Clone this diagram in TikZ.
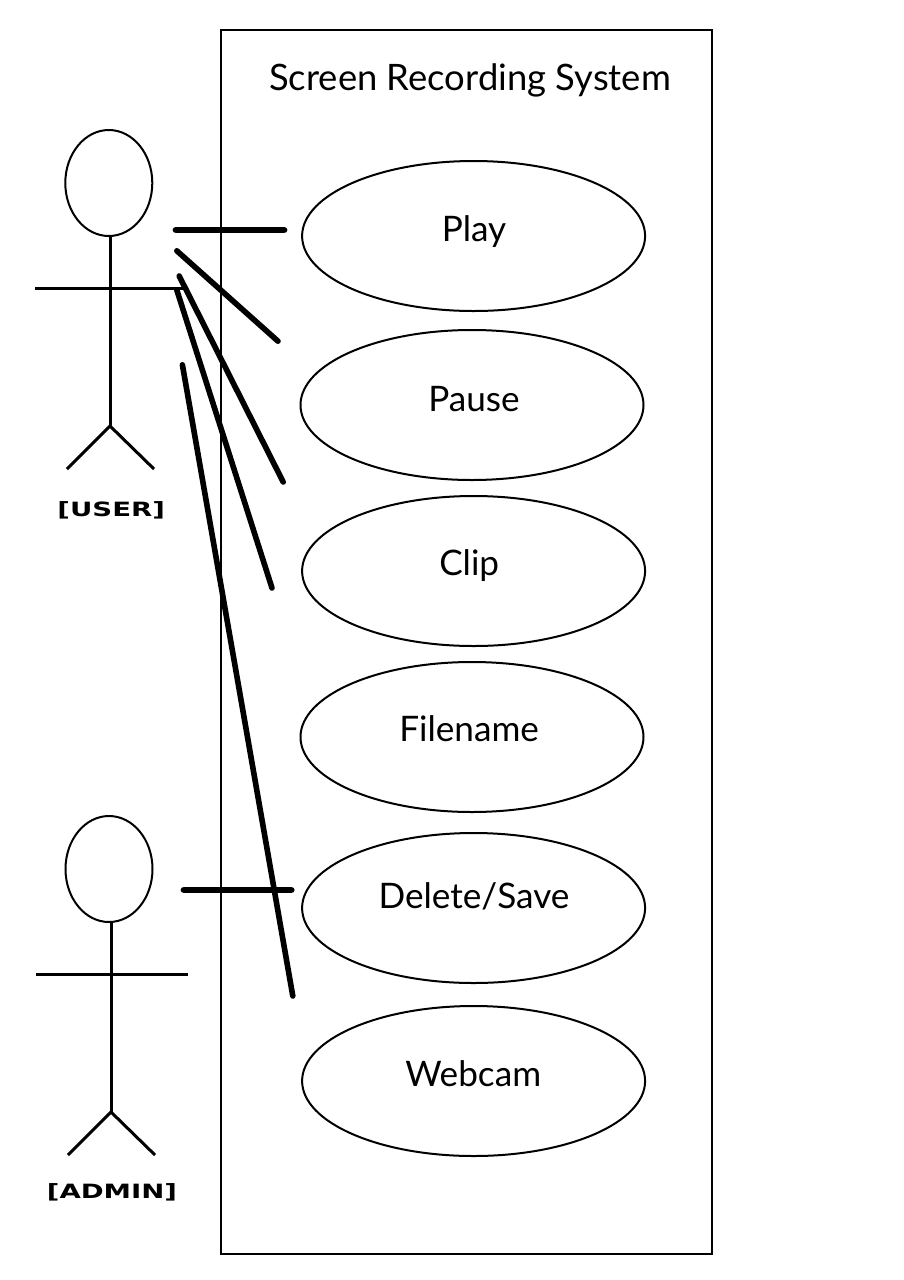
\documentclass[tikz,border=0pt]{standalone}
\usepackage{fontspec}
\setmainfont{Lato}
\newfontfamily\labelfont{DejaVu Sans}
\usepackage{tikz}
\usetikzlibrary{shapes,positioning}
\tikzstyle{usecase} = [ellipse, minimum width=8.575cm, minimum height=3.75cm, inner sep=0pt, draw=black, line width=0.05cm]
\tikzstyle{actorhead} = [ellipse, minimum width=2.175cm, minimum height=2.65cm, inner sep=0pt, draw=black, line width=0.05cm]
\tikzstyle{stick} = [black, line width=0.075cm]
\tikzstyle{assoc} = [black, line width=0.14cm, line cap=round]
\tikzstyle{assocflat} = [black, line width=0.17cm, line cap=round]
\tikzstyle{casetext} = [font=\fontsize{25}{30}\selectfont, inner sep=0pt]
\tikzstyle{actortext} = [font=\fontsize{14}{17}\selectfont\labelfont\bfseries, inner sep=0pt, xscale=1.4, transform shape]
\begin{document}
\begin{tikzpicture}
\useasboundingbox (0,0) rectangle (22.6,-32);
% system boundary
\node (system) [rectangle, draw=black, line width=0.05cm, minimum width=12.275cm, minimum height=30.6cm, inner sep=0pt] at (11.66,-16.05) {};
\node (title) [casetext, font=\fontsize{25.9}{30}\selectfont] at (11.75,-2.0) {Screen Recording System};

% use cases
\node (play) [usecase] at (11.84,-5.9) {};
\node (pause) [usecase, below of=play, node distance=4.225cm, xshift=-0.04cm] {};
\node (clip) [usecase, below of=pause, node distance=4.15cm, xshift=0.04cm] {};
\node (filename) [usecase, below of=clip, node distance=4.15cm, xshift=-0.04cm] {};
\node (delete) [usecase, below of=filename, node distance=4.275cm, xshift=0.04cm] {};
\node (webcam) [usecase, below of=delete, node distance=4.325cm] {};
\node (playtext) [casetext] at (11.85,-5.78) {Play};
\node (pausetext) [casetext] at (11.85,-9.98) {Pause};
\node (cliptext) [casetext] at (11.73,-14.13) {Clip};
\node (filenametext) [casetext] at (11.73,-18.22) {Filename};
\node (deletetext) [casetext] at (11.85,-22.4) {Delete/Save};
\node (webcamtext) [casetext] at (11.83,-26.85) {Webcam};

% user actor
\node (userhead) [actorhead] at (2.72,-4.575) {};
\coordinate (userhip) at (2.75,-10.65);
\coordinate (userarml) at (0.875,-7.2);
\coordinate (userarmr) at (4.575,-7.2);
\coordinate (userfootl) at (1.675,-11.725);
\coordinate (userfootr) at (3.85,-11.725);
\draw[stick] (userhead.south -| userhip) -- (userhip);
\draw[stick] (userarml) -- (userarmr);
\draw[stick] (userfootl) -- (userhip) -- (userfootr);
\node (usertext) [actortext] at (2.78,-12.77) {[USER]};

% admin actor
\node (adminhead) [actorhead] at (2.725,-21.725) {};
\coordinate (adminhip) at (2.775,-27.8);
\coordinate (adminarml) at (0.9,-24.35);
\coordinate (adminarmr) at (4.7,-24.35);
\coordinate (adminfootl) at (1.7,-28.875);
\coordinate (adminfootr) at (3.875,-28.875);
\draw[stick] (adminhead.south -| adminhip) -- (adminhip);
\draw[stick] (adminarml) -- (adminarmr);
\draw[stick] (adminfootl) -- (adminhip) -- (adminfootr);
\node (admintext) [actortext] at (2.8,-29.8) {[ADMIN]};

% associations
\coordinate (playfrom) at (4.4,-5.75);
\coordinate (playto) at (7.1,-5.75);
\coordinate (pausefrom) at (4.42,-6.27);
\coordinate (pauseto) at (6.95,-8.53);
\coordinate (clipfrom) at (4.48,-6.9);
\coordinate (clipto) at (7.08,-12.05);
\coordinate (clipbfrom) at (4.42,-7.25);
\coordinate (clipbto) at (6.8,-14.7);
\coordinate (webcamfrom) at (4.56,-9.12);
\coordinate (webcamto) at (7.32,-24.9);
\coordinate (deletefrom) at (4.6,-22.25);
\coordinate (deleteto) at (7.28,-22.25);
\draw[assocflat] (playfrom) -- (playto);
\draw[assoc] (pausefrom) -- (pauseto);
\draw[assoc] (clipfrom) -- (clipto);
\draw[assoc] (clipbfrom) -- (clipbto);
\draw[assoc] (webcamfrom) -- (webcamto);
\draw[assocflat] (deletefrom) -- (deleteto);
\end{tikzpicture}
\end{document}
